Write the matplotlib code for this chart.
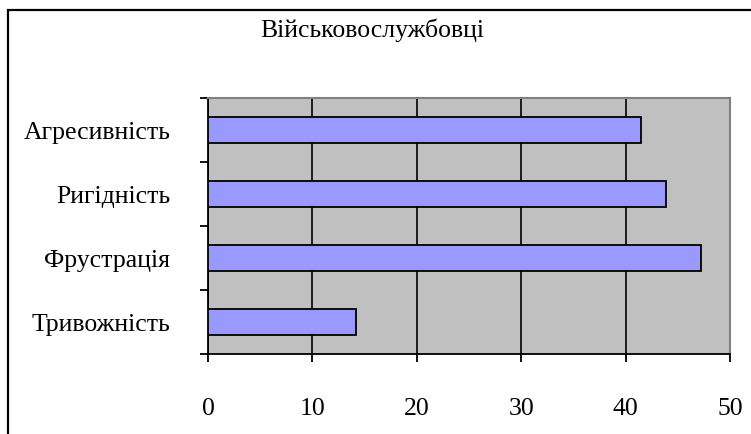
import matplotlib
matplotlib.use("Agg")
import matplotlib.pyplot as plt
from matplotlib.patches import Rectangle

plt.rcParams['font.family'] = ['Liberation Serif', 'DejaVu Serif']

# шкали знизу вгору
шкали = ["Тривожність", "Фрустрація", "Ригідність", "Агресивність"]
значення = [14.2, 47.2, 43.9, 41.5]
поділки_x = [0, 10, 20, 30, 40, 50]

W, H = 751, 434
fig = plt.figure(figsize=(W / 100, H / 100), dpi=100)
fig.patch.set_facecolor("white")

# рамка діаграми
fig.add_artist(Rectangle((8 / W, -20 / H), 800 / W, (H - 10 + 20) / H,
                         transform=fig.transFigure, fill=False,
                         edgecolor="black", linewidth=1.6, clip_on=False))

ax = fig.add_axes([208 / W, 1 - 354 / H, (730 - 208) / W, (354 - 98) / H])
ax.set_facecolor("#C0C0C0")

y = range(len(шкали))
ax.barh(y, значення, height=0.4, color="#9999FF", edgecolor="black",
        linewidth=1.3, zorder=3)

ax.set_xlim(0, 50)
ax.set_ylim(-0.5, len(шкали) - 0.5)
ax.set_xticks(поділки_x)
ax.set_xticklabels([str(v) for v in поділки_x])
ax.set_yticks(list(y))
ax.set_yticklabels(шкали)
ax.set_yticks([i - 0.5 for i in range(len(шкали) + 1)], minor=True)

ax.grid(axis="x", color="black", linewidth=1.2, zorder=1)
ax.set_axisbelow(True)

for s in ["top", "right"]:
    ax.spines[s].set_color("#808080")
    ax.spines[s].set_linewidth(1.5)
for s in ["left", "bottom"]:
    ax.spines[s].set_color("black")
    ax.spines[s].set_linewidth(1.3)

ax.tick_params(axis="x", direction="out", length=6, width=1.3,
               labelsize=18.5, pad=26)
ax.tick_params(axis="y", which="major", length=0, labelsize=18.5, pad=27)
ax.tick_params(axis="y", which="minor", direction="out", length=6, width=1.3)

fig.text(372 / W, 1 - 30 / H, "Військовослужбовці", ha="center", va="center",
         fontsize=18.5)

fig.savefig("out.png", dpi=100)
